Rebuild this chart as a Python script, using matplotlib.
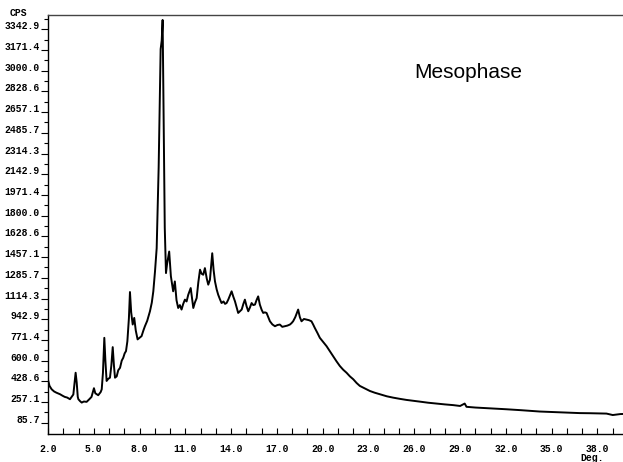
import matplotlib
matplotlib.use("Agg")
import matplotlib.pyplot as plt
from matplotlib.ticker import MultipleLocator, FixedLocator

# ---- data (2-theta in degrees, intensity in CPS) ----
two_theta = [
    2.00, 2.10, 2.24, 2.40, 2.55, 2.79, 2.95, 3.10, 3.25, 3.44,
    3.55, 3.66, 3.75, 3.81, 3.88, 3.95, 3.99, 4.10, 4.21, 4.35,
    4.53, 4.70, 4.85, 5.01, 5.10, 5.29, 5.45, 5.52, 5.60, 5.69,
    5.76, 5.84, 5.95, 6.06, 6.15, 6.24, 6.32, 6.39, 6.50, 6.60,
    6.72, 6.83, 6.93, 7.02, 7.11, 7.20, 7.30, 7.37, 7.45, 7.55,
    7.65, 7.75, 7.87, 8.00, 8.13, 8.25, 8.35, 8.50, 8.68, 8.80,
    8.90, 9.01, 9.12, 9.25, 9.38, 9.45, 9.51, 9.58, 9.65, 9.73,
    9.80, 9.94, 10.05, 10.20, 10.31, 10.42, 10.53, 10.64, 10.75, 10.86,
    10.97, 11.08, 11.19, 11.35, 11.45, 11.52, 11.62, 11.74, 11.85, 11.96,
    12.06, 12.17, 12.28, 12.40, 12.50, 12.61, 12.70, 12.76, 12.85, 12.94,
    13.05, 13.15, 13.26, 13.37, 13.50, 13.60, 13.70, 13.81, 13.92, 14.03,
    14.14, 14.25, 14.36, 14.46, 14.58, 14.69, 14.80, 14.90, 15.01, 15.12,
    15.23, 15.34, 15.45, 15.56, 15.66, 15.77, 15.88, 16.00, 16.10, 16.21,
    16.32, 16.43, 16.54, 16.70, 16.87, 17.03, 17.19, 17.35, 17.52, 17.68,
    17.85, 17.95, 18.06, 18.20, 18.39, 18.50, 18.61, 18.77, 18.93, 19.10,
    19.26, 19.37, 19.48, 19.65, 19.81, 20.03, 20.25, 20.46, 20.68, 20.90,
    21.12, 21.34, 21.56, 21.78, 22.00, 22.22, 22.43, 22.76, 23.09, 23.40,
    23.74, 24.20, 24.61, 25.05, 25.49, 25.90, 26.36, 26.90, 27.45, 28.00,
    28.55, 29.00, 29.30, 29.42, 30.00, 31.00, 32.00, 33.00, 34.22, 35.00,
    36.00, 36.84, 37.50, 38.59, 39.00, 39.50, 40.00,
]
cps = [
    440, 391, 363, 345, 335, 322, 310, 300, 295, 281,
    300, 320, 430, 500, 420, 300, 281, 265, 253, 262,
    259, 280, 300, 372, 330, 314, 340, 363, 500, 789,
    600, 432, 450, 459, 560, 712, 560, 459, 470, 520,
    541, 600, 624, 660, 679, 760, 950, 1168, 1000, 899,
    954, 850, 776, 790, 803, 850, 885, 930, 1009, 1080,
    1174, 1338, 1531, 2200, 3179, 3250, 3420, 2600, 1700, 1325,
    1400, 1503, 1300, 1174, 1256, 1100, 1036, 1060, 1023, 1070,
    1105, 1090, 1146, 1201, 1100, 1036, 1080, 1118, 1250, 1353,
    1320, 1311, 1366, 1280, 1229, 1270, 1400, 1489, 1350, 1256,
    1190, 1146, 1110, 1077, 1090, 1070, 1077, 1105, 1140, 1174,
    1130, 1091, 1040, 995, 1010, 1023, 1070, 1105, 1050, 1009,
    1040, 1077, 1060, 1064, 1100, 1132, 1064, 1020, 995, 1000,
    995, 960, 926, 900, 885, 895, 899, 880, 885, 890,
    899, 910, 926, 960, 1023, 960, 926, 945, 940, 935,
    926, 900, 871, 830, 789, 755, 720, 680, 638, 595,
    556, 525, 500, 470, 446, 415, 391, 370, 349, 335,
    322, 305, 294, 284, 275, 268, 261, 252, 245, 238,
    232, 225, 245, 218, 212, 205, 198, 190, 179, 175,
    170, 166, 165, 162, 150, 158, 160,
]

y_ticks = [85.7, 257.1, 428.6, 600.0, 771.4, 942.9, 1114.3, 1285.7, 1457.1,
           1628.6, 1800.0, 1971.4, 2142.9, 2314.3, 2485.7, 2657.1, 2828.6,
           3000.0, 3171.4, 3342.9]
x_ticks = [2.0, 5.0, 8.0, 11.0, 14.0, 17.0, 20.0, 23.0, 26.0, 29.0, 32.0,
           35.0, 38.0]

W, H = 623, 462
fig = plt.figure(figsize=(W / 100, H / 100), dpi=100)
left, bottom, top = 48 / W, 28 / H, 1 - 15 / H
ax = fig.add_axes([left, bottom, 580 / W, top - bottom])

ax.plot(two_theta, cps, color="black", linewidth=1.4)

ax.set_xlim(2, 40)
ax.set_ylim(-7, 3461)

mono = dict(family="Liberation Mono", weight="bold", size=7)

ax.xaxis.set_major_locator(FixedLocator(x_ticks))
ax.xaxis.set_minor_locator(MultipleLocator(1.0))
ax.set_xticklabels([f"{v:.1f}" for v in x_ticks], fontdict=mono)
ax.tick_params(axis="x", which="both", direction="in", length=4, width=0.8,
               pad=7, top=False)

minor_y = [v + 171.43 / 2 for v in y_ticks]
ax.yaxis.set_major_locator(FixedLocator(y_ticks))
ax.yaxis.set_minor_locator(FixedLocator(minor_y))
ax.set_yticklabels([f"{v:.1f}" for v in y_ticks], fontdict=mono)
ax.tick_params(axis="y", which="major", direction="out", length=5, width=0.8,
               pad=1, right=False)
ax.tick_params(axis="y", which="minor", direction="out", length=3, width=0.8,
               right=False)
for lab in ax.get_yticklabels():
    lab.set_va("baseline")

for side in ["left", "bottom", "top"]:
    ax.spines[side].set_linewidth(1.0)
    ax.spines[side].set_color("black")
ax.spines["top"].set_color("#444444")
ax.spines["right"].set_visible(False)

fig.text(18 / W, 1 - 13 / H, "CPS", ha="center", va="center", **mono)
fig.text(592 / W, 1 - 458 / H, "Deg.", ha="center", va="center", **mono)
fig.text(468 / W, 1 - 73 / H, "Mesophase", ha="center", va="center",
         family="Liberation Sans", size=15)

fig.savefig("out.png", dpi=100)
